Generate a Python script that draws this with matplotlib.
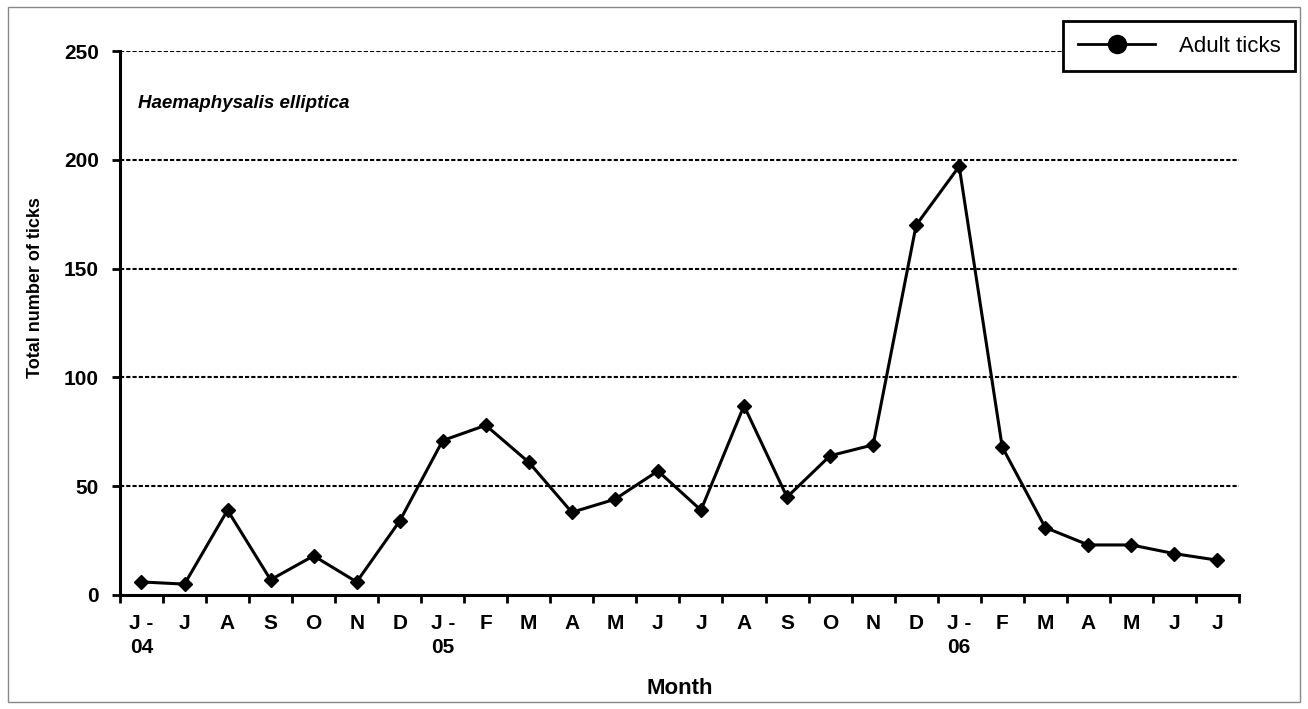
import matplotlib
matplotlib.use("Agg")
import matplotlib.pyplot as plt
from matplotlib.patches import Rectangle
import numpy as np

plt.rcParams['font.family'] = ['Liberation Sans', 'DejaVu Sans']

months = ["J -\n04", "J", "A", "S", "O", "N", "D", "J -\n05", "F", "M", "A", "M", "J",
          "J", "A", "S", "O", "N", "D", "J -\n06", "F", "M", "A", "M", "J", "J"]
adult_ticks = [6, 5, 39, 7, 18, 6, 34, 71, 78, 61, 38, 44, 57,
               39, 87, 45, 64, 69, 170, 197, 68, 31, 23, 23, 19, 16]
y_ticks = [0, 50, 100, 150, 200, 250]

fig = plt.figure(figsize=(13.08, 7.09), dpi=100)
ax = fig.add_axes([0.0917, 0.1608, 0.8555, 0.7672])

x = np.arange(len(months))
ax.plot(x, adult_ticks, color="black", lw=2.2, marker="D", markersize=7, zorder=3)

# dashed gridlines
for yv in y_ticks[1:]:
    ax.axhline(yv, color="black", lw=1.5, linestyle=(0, (2, 1)), zorder=1)

ax.set_xlim(-0.5, len(months) - 0.5)
ax.set_ylim(0, 250)
ax.set_yticks(y_ticks)
ax.set_yticklabels([str(v) for v in y_ticks], fontsize=15, fontweight="bold")

# boundaries get tick marks, centres get labels
ax.set_xticks(np.arange(len(months) + 1) - 0.5)
ax.set_xticklabels([])
ax.set_xticks(x, minor=True)
ax.set_xticklabels(months, minor=True, fontsize=15, fontweight="bold",
                   linespacing=1.3, va="top")
ax.tick_params(axis="x", which="minor", length=0, pad=14)
ax.tick_params(axis="x", which="major", direction="out", length=6, width=2)
ax.tick_params(axis="y", direction="out", length=6, width=2, pad=9)

for s in ["top", "right"]:
    ax.spines[s].set_visible(False)
for s in ["left", "bottom"]:
    ax.spines[s].set_linewidth(2.2)

ax.set_ylabel("Total number of ticks", fontsize=13, fontweight="bold")
ax.yaxis.set_label_coords(-0.068, 0.565)
ax.set_xlabel("Month", fontsize=16, fontweight="bold")
ax.xaxis.set_label_coords(0.5, -0.152)

ax.text(0.016, 0.904, "Haemaphysalis elliptica", transform=ax.transAxes,
        fontsize=13.5, fontweight="bold", fontstyle="italic", va="center")

# legend uses a round marker
h, = ax.plot([], [], color="black", lw=2, marker="o", markersize=13)
leg = fig.legend([h], ["Adult ticks"], loc="upper right",
                 bbox_to_anchor=(0.990, 0.970), borderaxespad=0, fontsize=16,
                 frameon=True, fancybox=False, borderpad=0.65,
                 handlelength=3.5, handletextpad=1.05)
leg.get_frame().set_edgecolor("black")
leg.get_frame().set_linewidth(2)
leg.get_frame().set_alpha(1)

fig.patches.append(Rectangle((0.006, 0.01), 0.988, 0.98, transform=fig.transFigure,
                             fill=False, edgecolor="#888888", lw=1))

fig.savefig("out.png", dpi=100)
